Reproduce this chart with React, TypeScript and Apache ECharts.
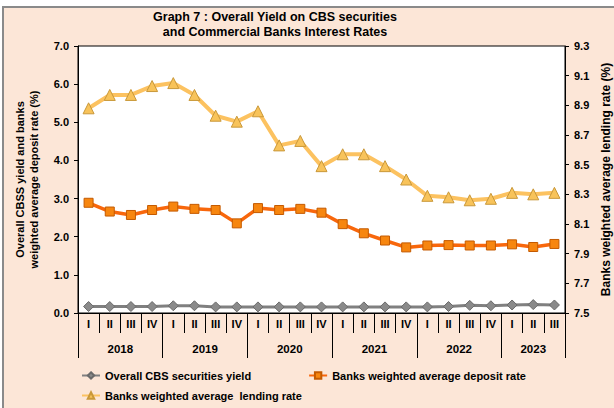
import React, { useEffect, useRef } from 'react';
import * as echarts from 'echarts';

const quarters = ['I', 'II', 'III', 'IV', 'I', 'II', 'III', 'IV', 'I', 'II', 'III', 'IV', 'I', 'II', 'III', 'IV', 'I', 'II', 'III', 'IV', 'I', 'II', 'III'];
const years = ['2018', '2019', '2020', '2021', '2022', '2023'];
const quartersPerYear = [4, 4, 4, 4, 4, 3];

const cbsYield = [0.17, 0.17, 0.17, 0.17, 0.19, 0.19, 0.16, 0.16, 0.16, 0.16, 0.16, 0.16, 0.16, 0.16, 0.16, 0.16, 0.16, 0.17, 0.2, 0.19, 0.21, 0.22, 0.21];
const depositRate = [2.89, 2.66, 2.57, 2.7, 2.79, 2.73, 2.7, 2.35, 2.75, 2.7, 2.73, 2.63, 2.33, 2.09, 1.9, 1.72, 1.77, 1.78, 1.77, 1.77, 1.8, 1.73, 1.81];
const lendingRate = [8.88, 8.97, 8.97, 9.03, 9.05, 8.97, 8.83, 8.79, 8.86, 8.63, 8.66, 8.49, 8.57, 8.57, 8.49, 8.4, 8.29, 8.28, 8.26, 8.27, 8.31, 8.3, 8.31];

const leftMin = 0;
const leftMax = 7;
const leftInterval = 1;
const rightTicks = [7.5, 7.7, 7.9, 8.1, 8.3, 8.5, 8.7, 8.9, 9.1, 9.3];

const seriesNames = [
  'Overall CBS securities yield',
  'Banks weighted average deposit rate',
  'Banks weighted average  lending rate',
];

const FONT = '"Liberation Sans", Arial, sans-serif';

function buildYearAxis() {
  const total = quarters.length * 2 + 1;
  const labels: string[] = new Array(total).fill('');
  const boundaries = new Set<number>();
  let start = 0;
  years.forEach((y, i) => {
    const n = quartersPerYear[i];
    boundaries.add(start * 2);
    labels[start * 2 + n] = y;
    start += n;
  });
  boundaries.add(start * 2);
  return { labels, boundaries };
}

export default function App() {
  const ref = useRef<HTMLDivElement>(null);
  useEffect(() => {
    if (!ref.current) return;
    const chart = echarts.init(ref.current, undefined, { renderer: 'svg' });
    const { labels: yearLabels, boundaries } = buildYearAxis();
    const axisText = { color: '#000', fontWeight: 'bold' as const, fontSize: 11, fontFamily: FONT };
    const legendText = { fontSize: 11, fontWeight: 'bold' as const, color: '#000', fontFamily: FONT };
    chart.setOption({
      animation: false,
      backgroundColor: '#ffffff',
      graphic: [
        {
          type: 'rect',
          z: -100,
          shape: { x: 3, y: 7, width: 640, height: 420 },
          style: { fill: '#fce6d7', stroke: '#8a8a8a', lineWidth: 2 },
        },
      ],
      title: {
        text: 'Graph 7 : Overall Yield on CBS securities\nand Commercial Banks Interest Rates',
        left: 275,
        top: 9,
        textAlign: 'center',
        padding: 0,
        textStyle: { fontSize: 12.5, fontWeight: 'bold', color: '#000', fontFamily: FONT, lineHeight: 15.5 },
      },
      legend: [
        {
          data: [seriesNames[0], seriesNames[1]],
          left: 81,
          top: 370,
          padding: 0,
          itemWidth: 18,
          itemHeight: 8,
          itemGap: 57,
          textStyle: legendText,
        },
        {
          data: [seriesNames[2]],
          left: 81,
          top: 390,
          padding: 0,
          itemWidth: 18,
          itemHeight: 8,
          textStyle: legendText,
        },
      ],
      grid: {
        left: 78,
        right: 49,
        top: 46,
        bottom: 95,
        show: true,
        backgroundColor: '#ffffff',
        borderColor: '#000',
        borderWidth: 1,
        outerBoundsMode: 'none',
      },
      xAxis: [
        {
          type: 'category',
          data: quarters,
          boundaryGap: true,
          axisLine: { lineStyle: { color: '#000', width: 1 } },
          axisTick: { show: true, interval: 0, length: 20, lineStyle: { color: '#000' } },
          axisLabel: { ...axisText, interval: 0, margin: 5 },
        },
        {
          type: 'category',
          data: yearLabels,
          boundaryGap: false,
          position: 'bottom',
          axisLine: { show: false },
          axisTick: {
            show: true,
            length: 45,
            interval: (i: number) => boundaries.has(i),
            lineStyle: { color: '#000' },
          },
          axisLabel: { ...axisText, interval: 0, margin: 30, fontSize: 11.5 },
        },
      ],
      yAxis: [
        {
          type: 'value',
          min: leftMin,
          max: leftMax,
          interval: leftInterval,
          name: 'Overall CBSS yield and banks\nweighted average deposit rate (%)',
          nameLocation: 'middle',
          nameRotate: 90,
          nameGap: 37,
          nameTextStyle: { ...axisText, lineHeight: 14 },
          axisLine: { show: true, lineStyle: { color: '#000' } },
          axisTick: { show: true, length: 4, lineStyle: { color: '#000' } },
          axisLabel: { ...axisText, margin: 9, formatter: (v: number) => v.toFixed(1) },
          splitLine: { show: false },
        },
        {
          type: 'value',
          min: rightTicks[0],
          max: rightTicks[rightTicks.length - 1],
          position: 'right',
          name: 'Banks weighted average lending rate (%)',
          nameLocation: 'middle',
          nameRotate: 90,
          nameGap: 34,
          nameTextStyle: { ...axisText, fontSize: 12 },
          axisLine: { show: true, lineStyle: { color: '#000' } },
          axisTick: { show: true, length: 4, customValues: rightTicks, lineStyle: { color: '#000' } },
          axisLabel: { ...axisText, margin: 9, customValues: rightTicks, formatter: (v: number) => v.toFixed(1) },
          splitLine: { show: false },
        },
      ],
      series: [
        {
          name: seriesNames[0],
          type: 'line',
          yAxisIndex: 0,
          data: cbsYield,
          symbol: 'diamond',
          symbolSize: 10,
          lineStyle: { color: '#808080', width: 3 },
          itemStyle: { color: '#8a8a8a', borderColor: '#6a6a6a', borderWidth: 1 },
        },
        {
          name: seriesNames[1],
          type: 'line',
          yAxisIndex: 0,
          data: depositRate,
          symbol: 'rect',
          symbolSize: 9,
          lineStyle: { color: '#f8670c', width: 3.5 },
          itemStyle: { color: '#f7860f', borderColor: '#c45a00', borderWidth: 1 },
        },
        {
          name: seriesNames[2],
          type: 'line',
          yAxisIndex: 1,
          data: lendingRate,
          symbol: 'triangle',
          symbolSize: 11,
          lineStyle: { color: '#fcc260', width: 4 },
          itemStyle: { color: '#f8c35a', borderColor: '#c9983a', borderWidth: 1 },
        },
      ],
    });
    return () => chart.dispose();
  }, []);
  return <div ref={ref} style={{ position: 'fixed', left: 0, top: 0, width: 614, height: 408 }} />;
}
